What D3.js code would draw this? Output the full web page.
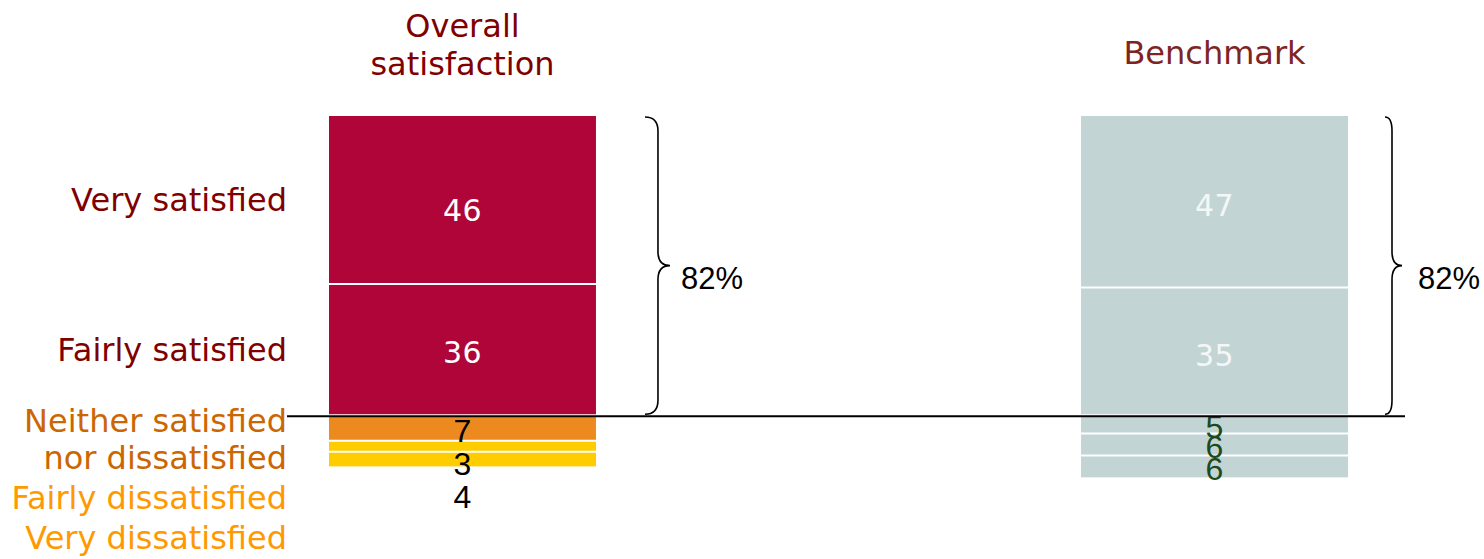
<!DOCTYPE html>
<html>
<head>
<meta charset="utf-8">
<script src="https://cdn.jsdelivr.net/npm/d3@7"></script>
<style>
  html, body { margin: 0; padding: 0; background: #ffffff; }
  svg { display: block; }
</style>
</head>
<body>
<svg id="chart" width="1484" height="559"></svg>
<script>
// ---- data ----
const categories = ["Very satisfied", "Fairly satisfied", "Neither satisfied\nnor dissatisfied", "Fairly dissatisfied", "Very dissatisfied"];
const seriesNames = ["Overall\nsatisfaction", "Benchmark"];
const overallValues = [46, 36, 7, 3, 4];
const benchmarkValues = [47, 35, 5, 6, 6];
const satisfiedLabels = ["82%", "82%"];

// ---- styles ----
const overallColors = ["#B00538", "#B00538", "#EC8A1F", "#FFCC00", "#FFCC00"];
const benchmarkColor = "#C2D4D4";
const categoryColors = ["#800000", "#800000", "#CC6600", "#FF9900", "#FF9900"];
const titleColors = ["#800000", "#7F2424"];

const svg = d3.select("#chart");

const x = d3.scaleBand().domain(seriesNames).range([329, 1348]).paddingInner(0.645).paddingOuter(0);
const y = d3.scaleLinear().domain([0, 100]).range([116, 481]);

function stackSegs(vals) {
  let c = 0;
  return vals.map((v, i) => { const s = { i, v, y0: c, y1: c + v }; c += v; return s; });
}

const series = [
  { name: seriesNames[0], vals: overallValues, colors: overallColors, bigFill: "#ffffff", smallFill: "#000000",
    minGap: 33, bigDy: [10, 3], braceDx: 49, braceV: 13, braceT: 25, textDx: 11 },
  { name: seriesNames[1], vals: benchmarkValues, colors: benchmarkValues.map(() => benchmarkColor), bigFill: "#F4F7F7", smallFill: "#1C4A1C",
    minGap: 0, bigDy: [3, 4], braceDx: 37, braceV: 7, braceT: 17, textDx: 16 }
];

series.forEach((s, si) => {
  const g = svg.append("g");
  const segs = stackSegs(s.vals);
  const bx = x(s.name), bw = x.bandwidth();

  g.selectAll("rect").data(segs).join("rect")
    .attr("x", bx).attr("width", bw)
    .attr("y", d => y(d.y0)).attr("height", d => y(d.y1) - y(d.y0))
    .attr("fill", d => s.colors[d.i]);

  g.selectAll("line.sep").data(segs.slice(1)).join("line")
    .attr("class", "sep")
    .attr("x1", bx).attr("x2", bx + bw)
    .attr("y1", d => y(d.y0)).attr("y2", d => y(d.y0))
    .attr("stroke", "#ffffff").attr("stroke-width", 2);

  let prev = -Infinity;
  segs.forEach(d => {
    const big = d.v >= 10;
    let cy = (y(d.y0) + y(d.y1)) / 2;
    if (big) cy += s.bigDy[d.i] || 0;
    else { cy = Math.max(cy, prev + s.minGap); prev = cy; cy += 2; }
    g.append("text")
      .attr("x", bx + bw / 2).attr("y", cy)
      .attr("dy", "0.36em")
      .attr("text-anchor", "middle")
      .attr("font-family", big ? "DejaVu Sans" : "Liberation Sans")
      .attr("font-size", big ? 30 : 32)
      .attr("letter-spacing", big ? 0.5 : 0)
      .attr("fill", big ? s.bigFill : s.smallFill)
      .text(d.v);
  });

  const tLines = s.name.split("\n");
  const t = svg.append("text")
    .attr("text-anchor", "middle")
    .attr("font-family", "DejaVu Sans")
    .attr("font-size", 32)
    .attr("fill", titleColors[si]);
  tLines.forEach((ln, li) => {
    t.append("tspan").attr("x", bx + bw / 2)
      .attr("y", (tLines.length === 1 ? 52 : 25 + li * 38))
      .attr("dy", "0.36em").text(ln);
  });

  const top = y(0) + 1, bot = y(s.vals[0] + s.vals[1]) - 1, mid = (top + bot) / 2;
  const x0 = bx + bw + s.braceDx, xv = x0 + s.braceV, xt = x0 + s.braceT;
  const p = d3.path();
  p.moveTo(x0, top);
  p.quadraticCurveTo(xv, top, xv, top + 14);
  p.lineTo(xv, mid - 14);
  p.quadraticCurveTo(xv, mid, xt, mid);
  p.quadraticCurveTo(xv, mid, xv, mid + 14);
  p.lineTo(xv, bot - 14);
  p.quadraticCurveTo(xv, bot, x0, bot);
  svg.append("path").attr("d", p.toString()).attr("fill", "none").attr("stroke", "#000").attr("stroke-width", 1.6);
  svg.append("text")
    .attr("x", xt + s.textDx).attr("y", mid + 12)
    .attr("dy", "0.36em")
    .attr("font-family", "Liberation Sans").attr("font-size", 31).attr("fill", "#000")
    .text(satisfiedLabels[si]);
});

const divY = y(overallValues[0] + overallValues[1]);
svg.append("line")
  .attr("x1", 287).attr("x2", 1405)
  .attr("y1", divY + 1).attr("y2", divY + 1)
  .attr("stroke", "#000").attr("stroke-width", 2);

const ovSegs = stackSegs(overallValues);
let cursor = divY + 5;
categories.forEach((c, i) => {
  const lines = c.split("\n");
  const t = svg.append("text")
    .attr("text-anchor", "end")
    .attr("font-family", "DejaVu Sans")
    .attr("font-size", 32)
    .attr("fill", categoryColors[i]);
  if (overallValues[i] >= 10) {
    const cy = (y(ovSegs[i].y0) + y(ovSegs[i].y1)) / 2;
    t.append("tspan").attr("x", 287).attr("y", cy).attr("dy", "0.36em").text(lines[0]);
  } else {
    lines.forEach(ln => {
      t.append("tspan").attr("x", 287).attr("y", cursor).attr("dy", "0.36em").text(ln);
      cursor += 37;
    });
    cursor += 3;
  }
});
</script>
</body>
</html>
